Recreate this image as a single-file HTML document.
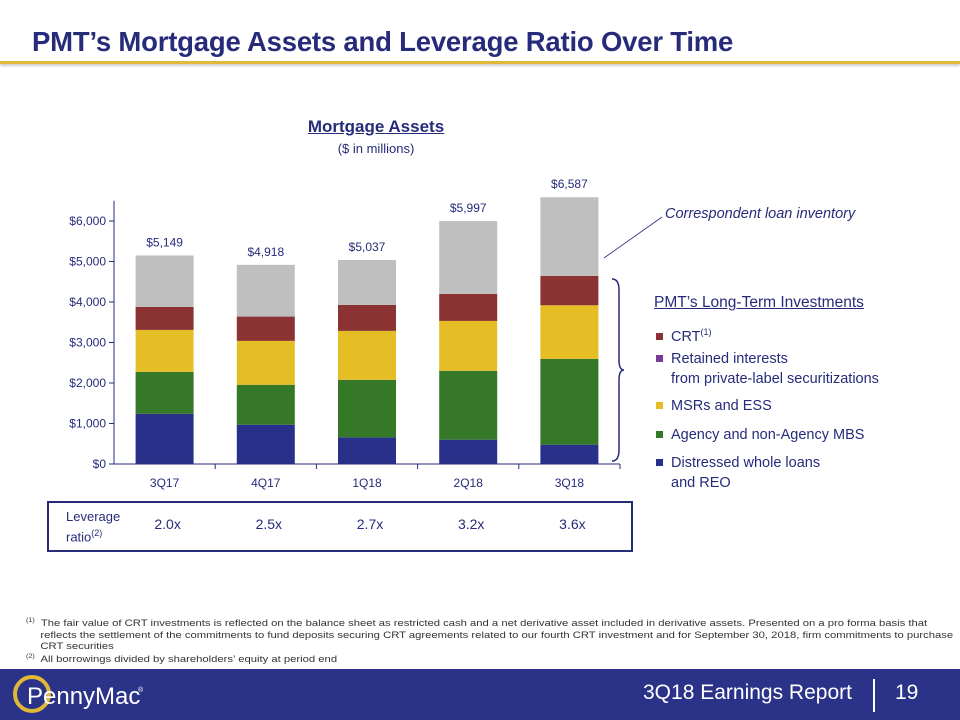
<!DOCTYPE html>
<html><head><meta charset="utf-8"><style>
body{margin:0;width:960px;height:720px;position:relative;background:#fff;font-family:"Liberation Sans",Arial,sans-serif;overflow:hidden}
.abs{position:absolute}
</style></head><body>
<div class="abs" style="left:32px;top:26px;font-size:27.5px;font-weight:bold;color:#262b7a;letter-spacing:-0.2px">PMT’s Mortgage Assets and Leverage Ratio Over Time</div>
<div class="abs" style="left:0;top:61px;width:960px;height:3px;background:#e0b83a;box-shadow:0 2px 2px #ccc"></div>
<div class="abs" style="left:276px;top:117px;width:200px;text-align:center;font-size:17px;font-weight:bold;color:#262b7a;text-decoration:underline">Mortgage Assets</div>
<div class="abs" style="left:276px;top:141px;width:200px;text-align:center;font-size:13px;color:#262b7a">($ in millions)</div>

<svg class="abs" style="left:0;top:0" width="960" height="720">
<g id="plot"></g>
<line x1="604" y1="258" x2="662" y2="217" stroke="#262b7a" stroke-width="0.8"/>
<path d="M612,279 Q619,279 619,290 L619,360 Q619,370 624,370 Q619,370 619,380 L619,450 Q619,461 612,461" fill="none" stroke="#262b7a" stroke-width="1.5"/>
</svg>

<div class="abs" style="left:665px;top:206px;font-size:14.5px;font-style:italic;color:#262b7a">Correspondent loan inventory</div>
<div class="abs" style="left:654px;top:293px;color:#262b7a;font-size:14.5px;line-height:20px">
<div style="text-decoration:underline;font-size:15.5px">PMT’s Long-Term Investments</div>
<div class="abs" style="top:29px;left:2px;white-space:nowrap"><span style="display:inline-block;width:7px;height:7px;background:#8b3232;margin-right:8px;vertical-align:1px"></span>CRT<sup style="font-size:9px">(1)</sup></div>
<div class="abs" style="top:56px;left:2px;white-space:nowrap"><span style="display:inline-block;width:7px;height:7px;background:#7a3a9a;margin-right:8px;vertical-align:1px"></span>Retained interests<br><span style="padding-left:15px">from private-label securitizations</span></div>
<div class="abs" style="top:103px;left:2px;white-space:nowrap"><span style="display:inline-block;width:7px;height:7px;background:#e5bd25;margin-right:8px;vertical-align:1px"></span>MSRs and ESS</div>
<div class="abs" style="top:132px;left:2px;white-space:nowrap"><span style="display:inline-block;width:7px;height:7px;background:#347828;margin-right:8px;vertical-align:1px"></span>Agency and non-Agency MBS</div>
<div class="abs" style="top:160px;left:2px;white-space:nowrap"><span style="display:inline-block;width:7px;height:7px;background:#29308a;margin-right:8px;vertical-align:1px"></span>Distressed whole loans<br><span style="padding-left:15px">and REO</span></div>
</div>

<div class="abs" style="left:47px;top:501px;width:582px;height:47px;border:2px solid #262b7a"></div>
<div class="abs" style="left:66px;top:508px;font-size:13px;color:#262b7a;line-height:17px">Leverage<br>ratio<sup style="font-size:9px">(2)</sup></div>
<div id="lev"></div>

<div class="abs" style="left:26px;top:616px;width:780px;font-size:9.4px;color:#333;line-height:11.5px;white-space:nowrap;transform:scaleX(1.2);transform-origin:0 0">
<div style="padding-left:12px;text-indent:-12px"><sup style="font-size:6px">(1)</sup>&nbsp; The fair value of CRT investments is reflected on the balance sheet as restricted cash and a net derivative asset included in derivative assets. Presented on a pro forma basis that<br>reflects the settlement of the commitments to fund deposits securing CRT agreements related to our fourth CRT investment and for September 30, 2018, firm commitments to purchase<br>CRT securities</div>
<div><sup style="font-size:6px">(2)</sup>&nbsp; All borrowings divided by shareholders’ equity at period end</div>
</div>

<div class="abs" style="left:0;top:669px;width:960px;height:51px;background:#2b3389"></div>
<svg class="abs" style="left:10px;top:672px" width="170" height="46">
<circle cx="22" cy="22" r="17" fill="none" stroke="#e0b83a" stroke-width="4"/>
<text x="17" y="32" font-family="Liberation Sans, sans-serif" font-size="24" fill="#fff">PennyMac</text>
<text x="128" y="20" font-family="Liberation Sans" font-size="7" fill="#fff">®</text>
</svg>
<div class="abs" style="left:643px;top:681px;font-size:21px;color:#fff">3Q18 Earnings Report</div>
<div class="abs" style="left:873px;top:679px;width:2px;height:33px;background:#fff"></div>
<div class="abs" style="left:895px;top:681px;font-size:21px;color:#fff">19</div>

<script>
const categories=["3Q17","4Q17","1Q18","2Q18","3Q18"];
const distressed=[1240,970,657,600,477];
const agencyMbs=[1036,986,1422,1701,2120];
const msrEss=[1035,1084,1208,1232,1322];
const crt=[567,600,641,666,724];
const correspondent=[1271,1278,1109,1798,1944];
const totals=["$5,149","$4,918","$5,037","$5,997","$6,587"];
const leverage=["2.0x","2.5x","2.7x","3.2x","3.6x"];
const yTicks=[0,1000,2000,3000,4000,5000,6000];
const yTickLabels=["$0","$1,000","$2,000","$3,000","$4,000","$5,000","$6,000"];

const NS="http://www.w3.org/2000/svg";
const x0=114,step=101.2,bw=58,y0=464,yPer=243/6000;
const xScale=i=>x0+step*i+step/2;
const yScale=v=>y0-v*yPer;
const g=document.getElementById('plot');
function mk(tag,attrs){const e=document.createElementNS(NS,tag);for(const k in attrs)e.setAttribute(k,attrs[k]);g.appendChild(e);return e;}
const series=[[distressed,"#29308a","distressed"],[agencyMbs,"#347828","agency-mbs"],[msrEss,"#e5bd25","msr-ess"],[crt,"#8b3232","crt"],[correspondent,"#bfbfbf","correspondent"]];
categories.forEach((c,i)=>{
  let acc=0;
  series.forEach(([arr,col,nm])=>{
    const r=mk('rect',{x:xScale(i)-bw/2,y:yScale(acc+arr[i]),width:bw,height:arr[i]*yPer,fill:col});
    
    
    acc+=arr[i];
  });
  const t=mk('text',{x:xScale(i),y:yScale(acc)-9,'text-anchor':'middle','font-size':12,fill:'#262b7a'});
  t.textContent=totals[i];
  
  
  const xl=mk('text',{x:xScale(i),y:487,'text-anchor':'middle','font-size':12,fill:'#262b7a'});
  xl.textContent=c;
  
  
  const tk=mk('line',{x1:x0+step*(i+1),x2:x0+step*(i+1),y1:y0,y2:y0+5,stroke:'#262b7a'});
  
  
  const lv=document.createElement('div');
  lv.className='abs';
  lv.style.cssText='left:'+(xScale(i)-27)+'px;top:516px;width:60px;text-align:center;font-size:14px;color:#262b7a';
  lv.textContent=leverage[i];
  
  
  document.getElementById('lev').appendChild(lv);
});
yTicks.forEach((v,i)=>{
  const l=mk('line',{x1:x0-5,x2:x0,y1:yScale(v),y2:yScale(v),stroke:'#262b7a'});
  
  
  const t=mk('text',{x:x0-8,y:yScale(v)+4,'text-anchor':'end','font-size':12,fill:'#262b7a'});
  t.textContent=yTickLabels[i];
  
  
});
const ax=mk('line',{x1:x0,x2:x0,y1:y0,y2:yScale(6500),stroke:'#262b7a'});


const bx=mk('line',{x1:x0,x2:x0+step*5,y1:y0,y2:y0,stroke:'#262b7a'});


</script>
</body></html>
